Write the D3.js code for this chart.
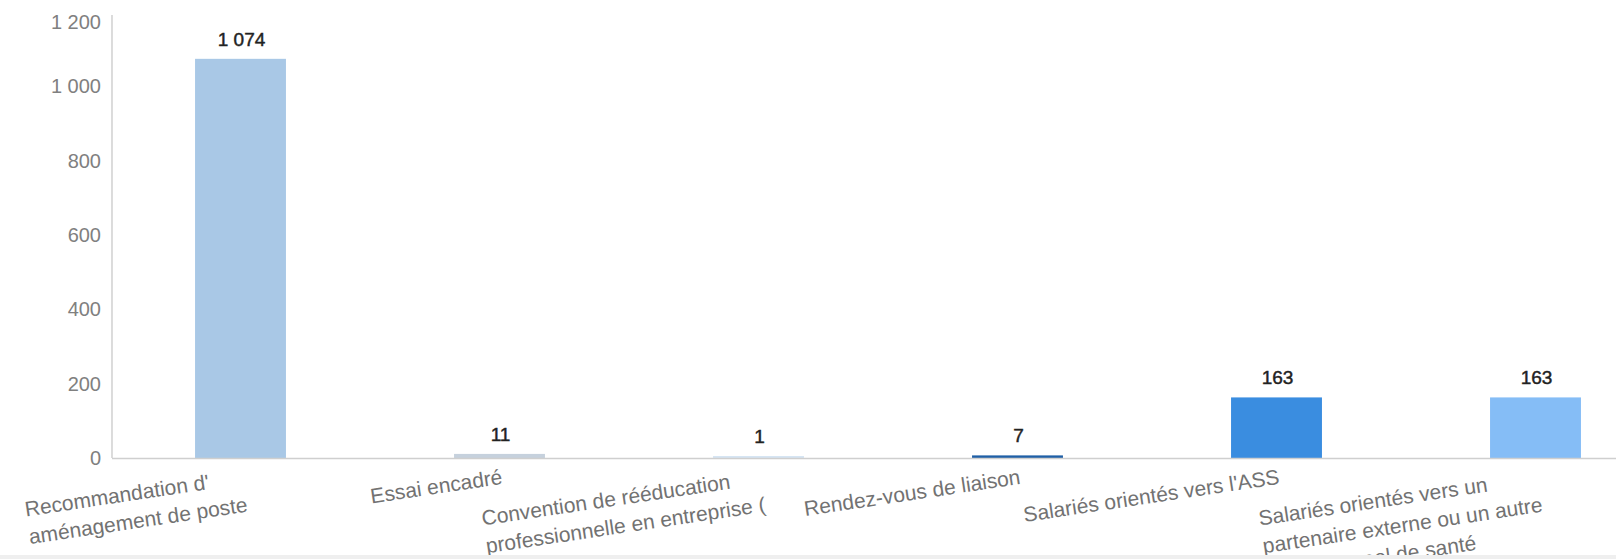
<!DOCTYPE html>
<html><head><meta charset="utf-8">
<script src="https://cdn.jsdelivr.net/npm/d3@7"></script>
<style>html,body{margin:0;padding:0;background:#fff;overflow:hidden}svg{display:block}</style>
</head><body>
<svg id="c" width="1616" height="559"></svg>
<script>
const categories = [
  ["Recommandation d'", "aménagement de poste"],
  ["Essai encadré"],
  ["Convention de rééducation", "professionnelle en entreprise ("],
  ["Rendez-vous de liaison"],
  ["Salariés orientés vers l'ASS"],
  ["Salariés orientés vers un", "partenaire externe ou un autre", "professionnel de santé"]
];
const values = [1074, 11, 1, 7, 163, 163];
const valueLabels = ["1 074", "11", "1", "7", "163", "163"];
const barColors = ["#a9c8e6", "#c6d1dd", "#d6e5f3", "#1f5fa6", "#3a8de0", "#85bdf6"];
const yTicks = [0, 200, 400, 600, 800, 1000, 1200];
const yTickLabels = ["0", "200", "400", "600", "800", "1 000", "1 200"];

const svg = d3.select("#c");
const FONT = "'Liberation Sans', Arial, sans-serif";
const y0 = 458, yTop = 12, xLeft = 112, step = 259;

const x = d3.scaleBand().domain(d3.range(values.length))
  .range([xLeft - 1, xLeft - 1 + step * values.length])
  .paddingInner(0.649).paddingOuter(0.3245);
const y = d3.scaleLinear().domain([0, 1200]).range([y0, yTop]);

// y axis
const ya = svg.append("g").attr("transform", `translate(${xLeft},0)`)
  .call(d3.axisLeft(y).tickValues(yTicks).tickSize(0).tickPadding(11)
    .tickFormat((d, i) => yTickLabels[i]));
ya.select(".domain").remove();
ya.selectAll("text").attr("font-family", FONT).attr("font-size", 20).attr("fill", "#808080");
ya.selectAll(".tick").filter(d => d === 1200).select("text").attr("y", 10);
svg.append("line").attr("x1", xLeft).attr("x2", xLeft).attr("y1", 15).attr("y2", y0)
  .attr("stroke", "#c4c4c4").attr("stroke-width", 1.2);

// bars
svg.append("g").selectAll("rect").data(values).join("rect")
  .attr("x", (d, i) => x(i))
  .attr("width", x.bandwidth())
  .attr("y", d => Math.min(y(d), y0 - 2))
  .attr("height", d => Math.max(y0 - y(d), 2))
  .attr("fill", (d, i) => barColors[i]);

// baseline
svg.append("line").attr("x1", xLeft).attr("x2", 1616).attr("y1", y0 + 0.5).attr("y2", y0 + 0.5)
  .attr("stroke", "#cfcfcf").attr("stroke-width", 1.5);

// value labels
svg.append("g").selectAll("text").data(values).join("text")
  .attr("x", (d, i) => x(i) + x.bandwidth() / 2 + 1)
  .attr("y", d => Math.min(y(d), y0 - 2) - 13)
  .attr("text-anchor", "middle")
  .attr("font-family", FONT).attr("font-size", 19).attr("fill", "#222")
  .attr("stroke", "#222").attr("stroke-width", 0.45)
  .text((d, i) => valueLabels[i]);

// category labels (rotated, block right-aligned at tick, lines left-aligned)
const measure = svg.append("text").attr("font-family", FONT).attr("font-size", 21).attr("visibility", "hidden");
function textW(s) { measure.text(s); return measure.node().getComputedTextLength(); }
const lab = svg.append("g").selectAll("g").data(categories).join("g")
  .attr("transform", (d, i) => `translate(${x(i) + x.bandwidth() / 2 + 1},${y0 + 8}) rotate(-8.5)`);
lab.each(function (lines) {
  const maxW = d3.max(lines, textW);
  d3.select(this).selectAll("text").data(lines).join("text")
    .attr("x", -maxW)
    .attr("y", (d, j) => 18 + j * 28)
    .attr("font-family", FONT).attr("font-size", 21).attr("fill", "#727272")
    .text(d => d);
});
measure.remove();

// bottom gray band (cropped screenshot edge)
svg.append("rect").attr("x", 0).attr("y", 555).attr("width", 1616).attr("height", 4).attr("fill", "#efefef");
</script>
</body></html>
